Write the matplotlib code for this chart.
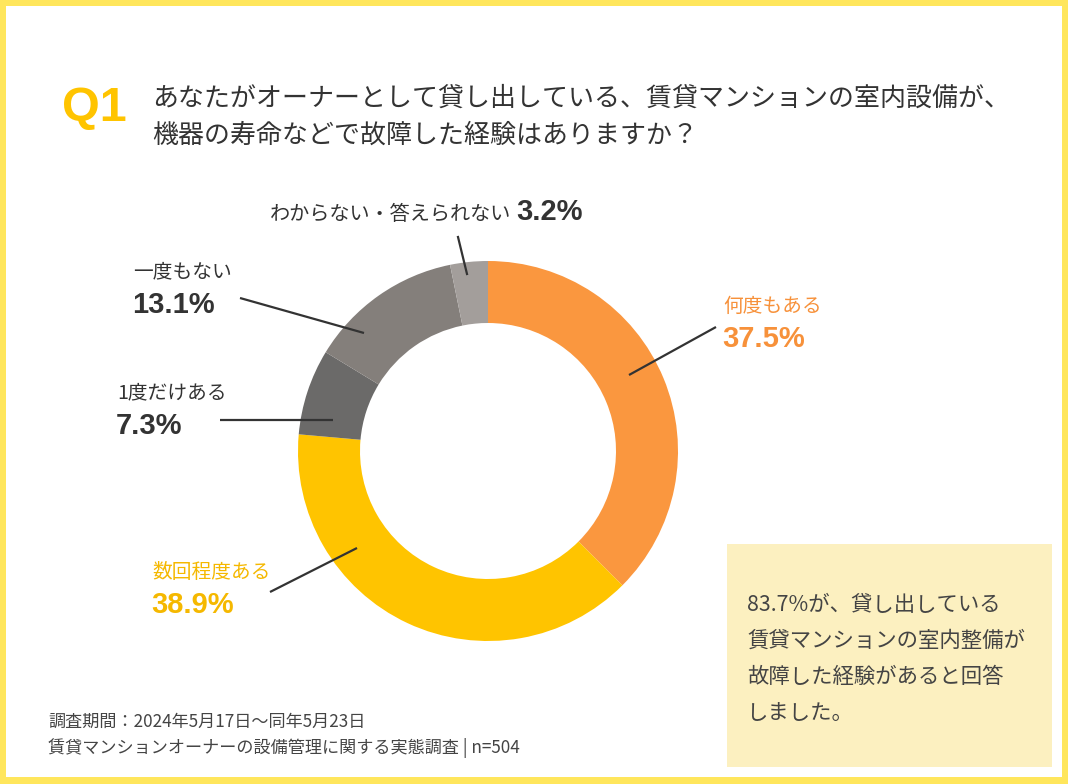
import matplotlib
matplotlib.use('Agg')
import matplotlib.pyplot as plt
from matplotlib.patches import Rectangle

JP = ['Noto Sans CJK JP', 'DejaVu Sans']
NUM = ['Liberation Sans', 'Noto Sans CJK JP']
plt.rcParams['font.family'] = JP

# data
labels = ['何度もある', '数回程度ある', '1度だけある', '一度もない', 'わからない・答えられない']
values = [37.5, 38.9, 7.3, 13.1, 3.2]
colors = ['#FA973F', '#FFC400', '#6B6A69', '#847F7B', '#A39E9B']
label_colors = ['#F7913A', '#F5B800', '#333333', '#333333', '#333333']

title_lines = ['あなたがオーナーとして貸し出している、賃貸マンションの室内設備が、',
               '機器の寿命などで故障した経験はありますか？']
note_lines = ['83.7%が、貸し出している', '賃貸マンションの室内整備が',
              '故障した経験があると回答', 'しました。']
footer_lines = ['調査期間：2024年5月17日～同年5月23日',
                '賃貸マンションオーナーの設備管理に関する実態調査 | n=504']

W, H = 1068, 784
fig = plt.figure(figsize=(W / 100, H / 100), dpi=100, facecolor='#FFE65C')
ax = fig.add_axes([0, 0, 1, 1])
ax.axis('off')

# white card inside yellow frame
ax.add_patch(Rectangle((6, 6), W - 12, H - 13, facecolor='white', edgecolor='none', zorder=0))

# donut (y axis is inverted, so angles are mirrored)
ax.pie(values, colors=colors, startangle=-90, counterclock=True,
       center=(488, 451), radius=190,
       wedgeprops=dict(width=62, linewidth=0, zorder=1))
ax.set_xlim(0, W)
ax.set_ylim(H, 0)
ax.set_aspect('auto')

# title
ax.text(62, 108, 'Q1', fontsize=35, fontweight='bold', color='#FFC400',
        family=NUM, va='center', ha='left')
for i, line in enumerate(title_lines):
    ax.text(152, 98 + i * 37, line, fontsize=18.7, color='#333333', va='center', ha='left')

# labels: (label x, label y, number y, leader line)
label_pos = [
    (723, 306, 339, [(716, 327), (629, 375)]),
    (152, 573, 605, [(270, 592), (357, 548)]),
    (117, 393, 426, [(220, 420), (333, 420)]),
    (133, 272, 305, [(240, 298), (364, 333)]),
]
for i in range(4):
    lx, ly, ny, seg = label_pos[i]
    ax.text(lx, ly, labels[i], fontsize=14.2, color=label_colors[i], va='center', ha='left')
    ax.text(lx - 1, ny, f'{values[i]}%', fontsize=21, fontweight='bold',
            color=label_colors[i], family=NUM, va='center', ha='left')
    ax.plot([seg[0][0], seg[1][0]], [seg[0][1], seg[1][1]], color='#333333', lw=1.6,
            zorder=3, solid_capstyle='butt')

# small slice label on one line
ax.text(270, 214, labels[4], fontsize=14.5, color='#333333', va='center', ha='left')
ax.text(516, 212, f'{values[4]}%', fontsize=21, fontweight='bold', color='#333333',
        family=NUM, va='center', ha='left')
ax.plot([458, 467], [237, 274], color='#333333', lw=1.6, zorder=3)

# summary box
ax.add_patch(Rectangle((727, 544), 325, 223, facecolor='#FCF0C0', edgecolor='none', zorder=1))
for i, line in enumerate(note_lines):
    ax.text(747, 605 + i * 36, line, fontsize=15.4, color='#444444', va='center', ha='left')

# footer
for i, line in enumerate(footer_lines):
    ax.text(48, 722 + i * 26, line, fontsize=12.3, color='#444444', va='center', ha='left')

fig.savefig('out.png', dpi=100, facecolor=fig.get_facecolor())
